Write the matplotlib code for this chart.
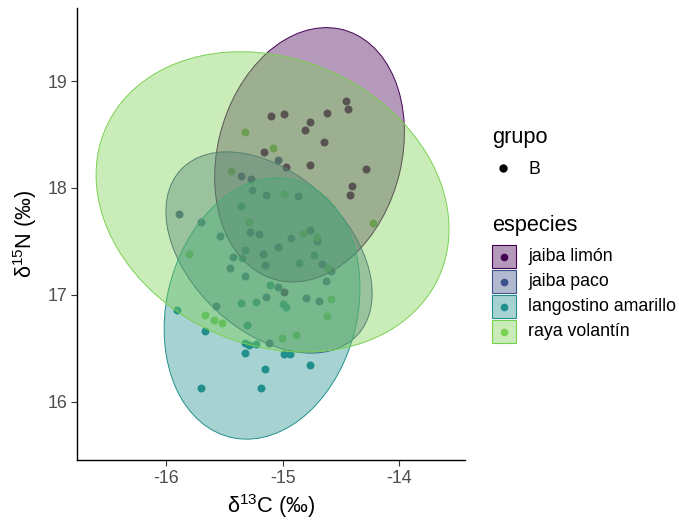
import matplotlib
matplotlib.use("Agg")
import matplotlib.pyplot as plt
from matplotlib.patches import Ellipse, Rectangle
from matplotlib.lines import Line2D

plt.rcParams['font.family'] = ['Liberation Sans', 'DejaVu Sans']
plt.rcParams['mathtext.fontset'] = 'custom'
plt.rcParams['mathtext.rm'] = 'Liberation Sans'
plt.rcParams['mathtext.it'] = 'Liberation Sans:italic'

# especies y colores
especies = ["jaiba limón", "jaiba paco", "langostino amarillo", "raya volantín"]
colores = ["#440154", "#3B528B", "#21908C", "#7AD151"]

# puntos d13C / d15N por especie
limon_x = [-14.46, -14.44, -15.10, -14.99, -14.62, -14.77, -14.81, -14.65,
           -15.16, -14.97, -14.77, -14.29, -14.41, -14.42, -14.99]
limon_y = [18.81, 18.74, 18.67, 18.69, 18.70, 18.62, 18.54, 18.43,
           18.34, 18.20, 18.21, 18.18, 18.02, 17.93, 17.03]

paco_x = [-15.36, -15.27, -15.26, -15.14, -14.87, -15.89, -15.70, -15.28,
          -15.20, -15.54, -14.93, -14.77, -14.71, -15.04, -15.17, -15.43,
          -15.15, -15.45, -14.66, -14.59, -15.32, -14.63, -15.04, -15.14,
          -14.80, -14.69, -15.57, -15.12, -15.04]
paco_y = [18.11, 18.08, 17.98, 17.93, 17.92, 17.76, 17.68, 17.59,
          17.57, 17.55, 17.53, 17.61, 17.50, 17.45, 17.38, 17.35,
          17.28, 17.25, 17.29, 17.22, 17.18, 17.13, 17.07, 16.98,
          16.97, 16.94, 16.90, 16.55, 18.26]

lang_x = [-15.36, -15.32, -15.35, -14.73, -14.86, -15.11, -15.36, -15.23,
          -15.00, -14.97, -15.91, -15.31, -15.67, -15.32, -15.29, -15.23,
          -14.99, -14.94, -15.32, -15.15, -14.77, -15.70, -15.19]
lang_y = [17.83, 17.42, 17.34, 17.37, 17.30, 17.09, 16.92, 16.93,
          16.91, 16.89, 16.86, 16.72, 16.66, 16.55, 16.53, 16.54,
          16.45, 16.45, 16.46, 16.31, 16.34, 16.13, 16.13]

raya_x = [-15.32, -15.08, -15.44, -14.99, -15.29, -14.23, -15.80, -14.61,
          -15.67, -15.59, -15.52, -14.83, -14.71, -14.59, -14.62, -15.01, -14.89]
raya_y = [18.52, 18.37, 18.16, 17.94, 17.68, 17.67, 17.38, 17.25,
          16.81, 16.76, 16.74, 17.58, 17.54, 16.96, 16.80, 16.60, 16.62]

puntos = [(limon_x, limon_y), (paco_x, paco_y), (lang_x, lang_y), (raya_x, raya_y)]

# elipses: centro, ancho, alto, angulo (unidades de datos)
elip_cx = [-14.77, -15.117, -15.177, -15.087]
elip_cy = [18.31, 17.396, 16.872, 17.869]
elip_w = [2.41, 2.17, 2.47, 3.19]
elip_h = [1.58, 1.40, 1.64, 2.62]
elip_ang = [77.8, -49.4, 78.9, -33.9]

fig = plt.figure(figsize=(6.79, 5.22), dpi=100)
ax = fig.add_axes([77.3 / 679, 1 - 460 / 522, (465 - 77.3) / 679, (460 - 8) / 522])

for (px, py), c in zip(puntos, colores):
    ax.scatter(px, py, s=33, color=c, linewidths=0, zorder=2)

for i, c in enumerate(colores):
    e = Ellipse((elip_cx[i], elip_cy[i]), elip_w[i], elip_h[i], angle=elip_ang[i],
                facecolor=c, alpha=0.4, edgecolor='none', zorder=3)
    ax.add_patch(e)
    e2 = Ellipse((elip_cx[i], elip_cy[i]), elip_w[i], elip_h[i], angle=elip_ang[i],
                 facecolor='none', edgecolor=c, linewidth=0.7, zorder=3)
    ax.add_patch(e2)

ax.set_xlim(-16.76, -13.438)
ax.set_ylim(15.455, 19.683)
ax.set_xticks([-16, -15, -14])
ax.set_yticks([16, 17, 18, 19])
ax.set_xticklabels(["-16", "-15", "-14"])
ax.set_yticklabels(["16", "17", "18", "19"])
for s in ['top', 'right']:
    ax.spines[s].set_visible(False)
for s in ['left', 'bottom']:
    ax.spines[s].set_linewidth(1.0)
ax.tick_params(labelsize=12.8, colors='#333333', labelcolor='#4D4D4D', length=4, width=0.8, pad=3)

ax.set_xlabel(r'$\mathregular{\delta^{13}}$C (‰)', fontsize=15.7, labelpad=4)
ax.set_ylabel(r'$\mathregular{\delta^{15}}$N (‰)', fontsize=15.7, labelpad=6)

# leyenda grupo
W, H = 679, 522
fig.text(492 / W, 1 - 137 / H, "grupo", fontsize=15.7, va='center', ha='left')
fig.add_artist(Line2D([503 / W], [1 - 168 / H], marker='o', color='black',
                      markersize=5, linestyle='none', transform=fig.transFigure))
fig.text(528 / W, 1 - 169 / H, "B", fontsize=12.8, va='center', ha='left')

# leyenda especies
fig.text(492 / W, 1 - 225 / H, "especies", fontsize=15.7, va='center', ha='left')
for i, (nombre, c) in enumerate(zip(especies, colores)):
    yc = 256.5 + i * 25
    fig.add_artist(Rectangle(((492) / W, 1 - (yc + 11.5) / H), 24 / W, 23 / H,
                             facecolor=c, alpha=0.4, edgecolor='none',
                             transform=fig.transFigure))
    fig.add_artist(Rectangle(((492) / W, 1 - (yc + 11.5) / H), 24 / W, 23 / H,
                             facecolor='none', edgecolor=c, linewidth=0.8,
                             transform=fig.transFigure))
    fig.add_artist(Line2D([504 / W], [1 - yc / H], marker='o', color=c,
                          markersize=4.5, linestyle='none', transform=fig.transFigure))
    fig.text(528 / W, 1 - yc / H, nombre, fontsize=12.8, va='center', ha='left')

fig.savefig("out.png", dpi=100)
